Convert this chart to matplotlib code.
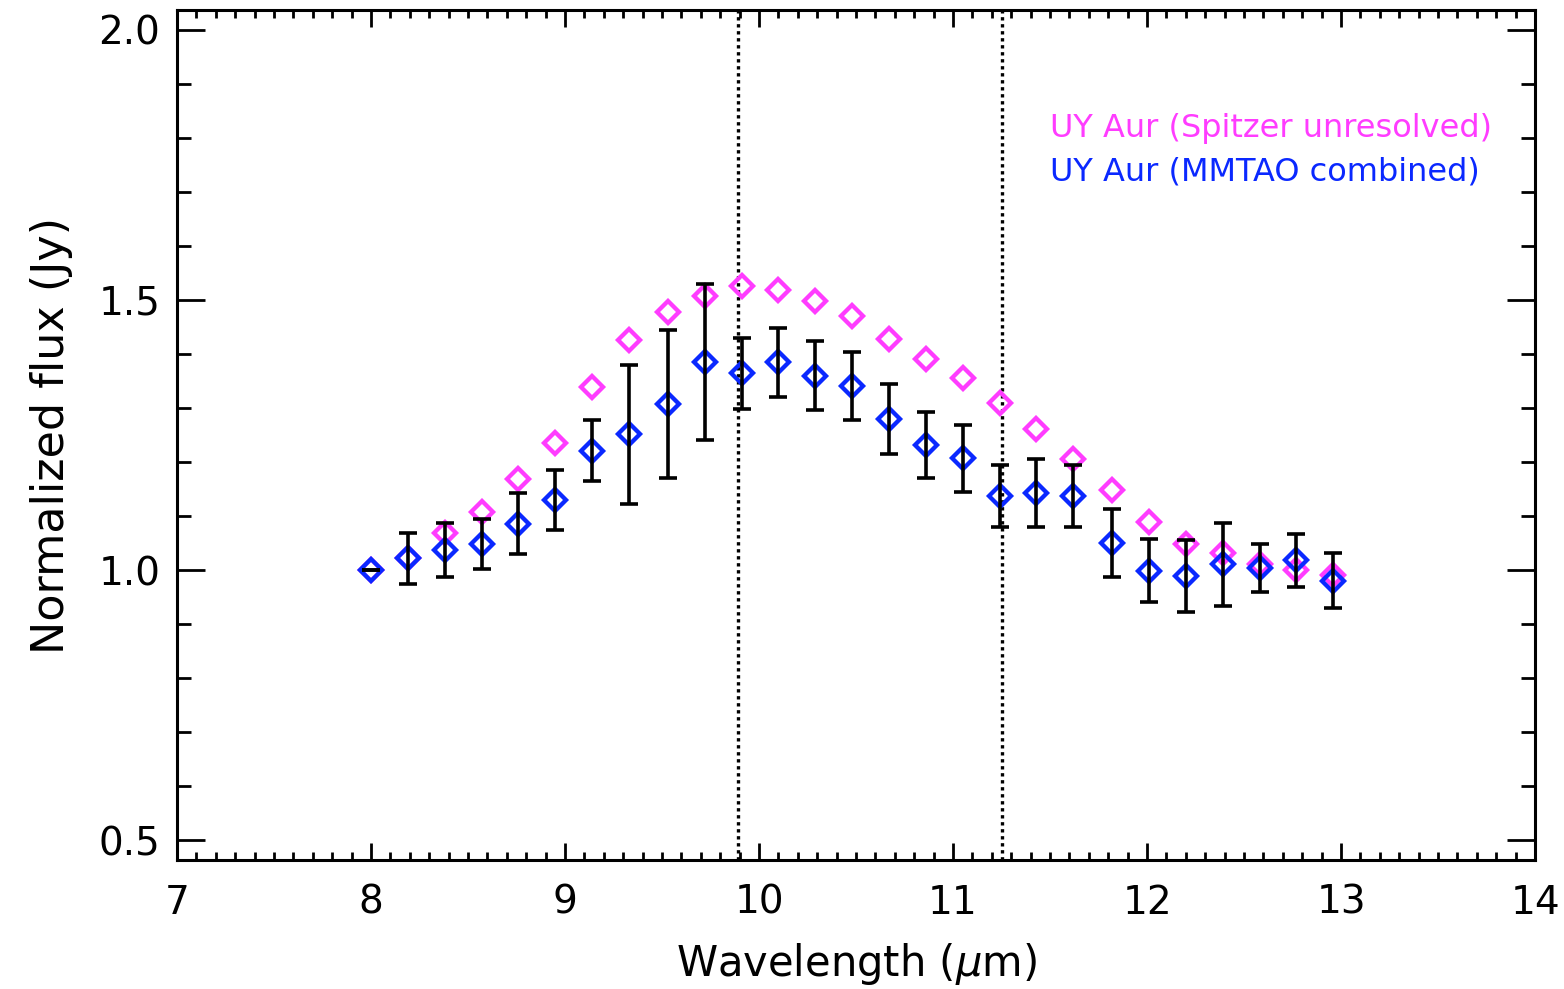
import numpy as np
import matplotlib
matplotlib.use("Agg")
import matplotlib.pyplot as plt
from matplotlib.ticker import MultipleLocator

# wavelength grid (micron)
wave = [8.00, 8.19, 8.38, 8.57, 8.76, 8.95, 9.14, 9.33, 9.53, 9.72,
        9.91, 10.10, 10.29, 10.48, 10.67, 10.86, 11.05, 11.24, 11.43, 11.62,
        11.82, 12.01, 12.20, 12.39, 12.58, 12.77, 12.96]

# Spitzer spectrum, normalized at 8 micron
spitzer = [1.000, 1.022, 1.068, 1.107, 1.169, 1.236, 1.338, 1.426, 1.477, 1.508,
           1.525, 1.519, 1.498, 1.470, 1.428, 1.391, 1.356, 1.309, 1.261, 1.206,
           1.148, 1.089, 1.049, 1.031, 1.012, 1.000, 0.991]

# MMTAO combined spectrum and 1-sigma errors
mmtao = [1.000, 1.022, 1.038, 1.048, 1.086, 1.130, 1.221, 1.251, 1.307, 1.385,
         1.364, 1.385, 1.360, 1.341, 1.280, 1.231, 1.207, 1.137, 1.143, 1.137,
         1.050, 0.999, 0.989, 1.011, 1.004, 1.018, 0.980]
mmtao_err = [0.000, 0.047, 0.050, 0.047, 0.056, 0.056, 0.057, 0.128, 0.137, 0.145,
             0.065, 0.064, 0.064, 0.063, 0.065, 0.061, 0.062, 0.058, 0.063, 0.058,
             0.063, 0.058, 0.067, 0.077, 0.045, 0.049, 0.051]

# silicate feature markers
vlines = [9.89, 11.25]

magenta = "#ff3cff"
blue = "#0a28ff"

plt.rcParams['font.family'] = ['DejaVu Sans']
fig = plt.figure(figsize=(15.64, 9.89), dpi=100)
ax = fig.add_axes([0.1132, 0.1304, 0.8683, 0.8595])

for xv in vlines:
    ax.axvline(xv, color="black", lw=2.4, ls=(0, (1, 1.1)), zorder=1)

ax.plot(wave, spitzer, ls="none", marker="D", ms=11, mfc="none",
        mec=magenta, mew=3.1, zorder=2)
ax.plot(wave, mmtao, ls="none", marker="D", ms=11, mfc="none",
        mec=blue, mew=3.1, zorder=3)
ax.errorbar(wave, mmtao, yerr=mmtao_err, fmt="none", ecolor="black",
            elinewidth=2.6, capsize=6.5, capthick=2.6, zorder=4)

ax.set_xlim(7, 14)
ax.set_ylim(0.463, 2.037)
ax.xaxis.set_major_locator(MultipleLocator(1))
ax.xaxis.set_minor_locator(MultipleLocator(0.1))
ax.yaxis.set_major_locator(MultipleLocator(0.5))
ax.yaxis.set_minor_locator(MultipleLocator(0.1))
ax.yaxis.set_major_formatter(matplotlib.ticker.FormatStrFormatter("%.1f"))

ax.tick_params(axis="both", which="both", direction="in", top=True, right=True,
               width=2.0, labelsize=28)
ax.tick_params(axis="x", which="major", length=12, pad=17)
ax.tick_params(axis="x", which="minor", length=6)
ax.tick_params(axis="y", which="major", length=20, pad=12)
ax.tick_params(axis="y", which="minor", length=10)
for s in ax.spines.values():
    s.set_linewidth(2.2)

ax.set_xlabel(r"Wavelength ($\mu$m)", fontsize=30, labelpad=14)
ax.set_ylabel("Normalized flux (Jy)", fontsize=32, labelpad=18)

ax.text(0.643, 0.861, "UY Aur (Spitzer unresolved)", color=magenta,
        fontsize=23, transform=ax.transAxes, va="center")
ax.text(0.643, 0.809, "UY Aur (MMTAO combined)", color=blue,
        fontsize=23, transform=ax.transAxes, va="center")

fig.savefig("out.png", dpi=100)
